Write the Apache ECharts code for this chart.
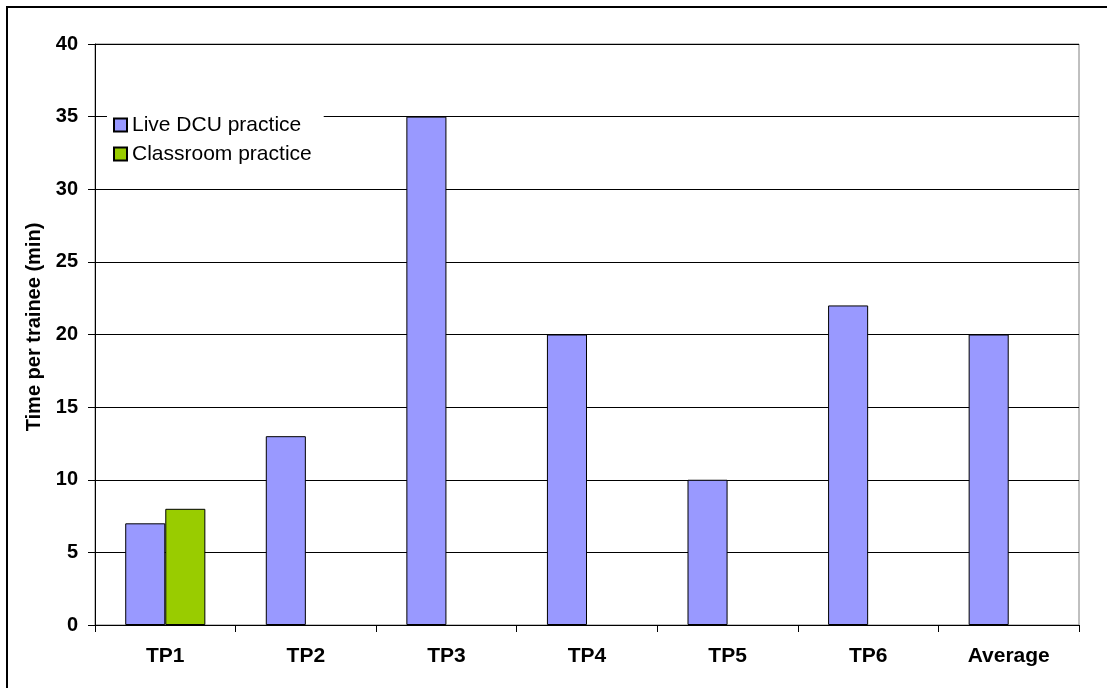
<!DOCTYPE html>
<html>
<head>
<meta charset="utf-8">
<script src="https://cdn.jsdelivr.net/npm/echarts@6/dist/echarts.min.js"></script>
<style>
  html, body { margin: 0; padding: 0; background: #fff; overflow: hidden; }
  #frame { position: absolute; left: 6px; top: 6px; width: 1200px; height: 800px; border: 2px solid #000; box-sizing: border-box; }
  #chart { position: absolute; left: 0; top: 0; width: 1107px; height: 688px; }
</style>
</head>
<body>
<div id="frame"></div>
<div id="chart"></div>
<script>
// Time spent per trainee for each training period
const categories = ['TP1', 'TP2', 'TP3', 'TP4', 'TP5', 'TP6', 'Average'];
const liveDcu = [7, 13, 35, 20, 10, 22, 20];
const classroom = [8, null, null, null, null, null, null];
const yTicks = { min: 0, max: 40, interval: 5 };

const font = 'Liberation Sans, Arial, sans-serif';
const chart = echarts.init(document.getElementById('chart'), null, { renderer: 'canvas' });

chart.setOption({
  animation: false,
  backgroundColor: 'transparent',
  grid: { left: 95, top: 44, right: 28, bottom: 63, show: true, borderColor: '#808080', borderWidth: 1, backgroundColor: 'transparent' },
  legend: {
    orient: 'vertical',
    left: 107,
    top: 106,
    padding: [7, 12, 7, 6],
    backgroundColor: '#fff',
    itemWidth: 13,
    itemHeight: 13,
    itemGap: 5,
    icon: 'rect',
    textStyle: { fontFamily: font, fontSize: 21, color: '#000', lineHeight: 24 },
    data: ['Live DCU practice', 'Classroom practice']
  },
  xAxis: {
    type: 'category',
    data: categories,
    axisLine: { lineStyle: { color: '#000', width: 1 } },
    axisTick: { show: true, length: 7, lineStyle: { color: '#000' } },
    axisLabel: { margin: 21, fontFamily: font, fontSize: 21, fontWeight: 'bold', color: '#000' }
  },
  yAxis: {
    type: 'value',
    min: yTicks.min,
    max: yTicks.max,
    interval: yTicks.interval,
    name: 'Time per trainee (min)',
    nameLocation: 'middle',
    nameGap: 51,
    nameTextStyle: { fontFamily: font, fontSize: 20, fontWeight: 'bold', color: '#000', padding: [0, 0, 0, 15] },
    axisLine: { show: true, lineStyle: { color: '#000', width: 1 } },
    axisTick: { show: true, length: 7, lineStyle: { color: '#000' } },
    axisLabel: { margin: 17, fontFamily: font, fontSize: 20, fontWeight: 'bold', color: '#000' },
    splitLine: { show: true, lineStyle: { color: '#000', width: 1 } }
  },
  series: [
    {
      name: 'Live DCU practice',
      type: 'bar',
      data: liveDcu,
      barGap: '0%',
      barCategoryGap: '43%',
      itemStyle: { color: '#9999ff', borderColor: '#000', borderWidth: 1 }
    },
    {
      name: 'Classroom practice',
      type: 'bar',
      data: classroom,
      itemStyle: { color: '#99cc00', borderColor: '#000', borderWidth: 1 }
    }
  ]
});
</script>
</body>
</html>
